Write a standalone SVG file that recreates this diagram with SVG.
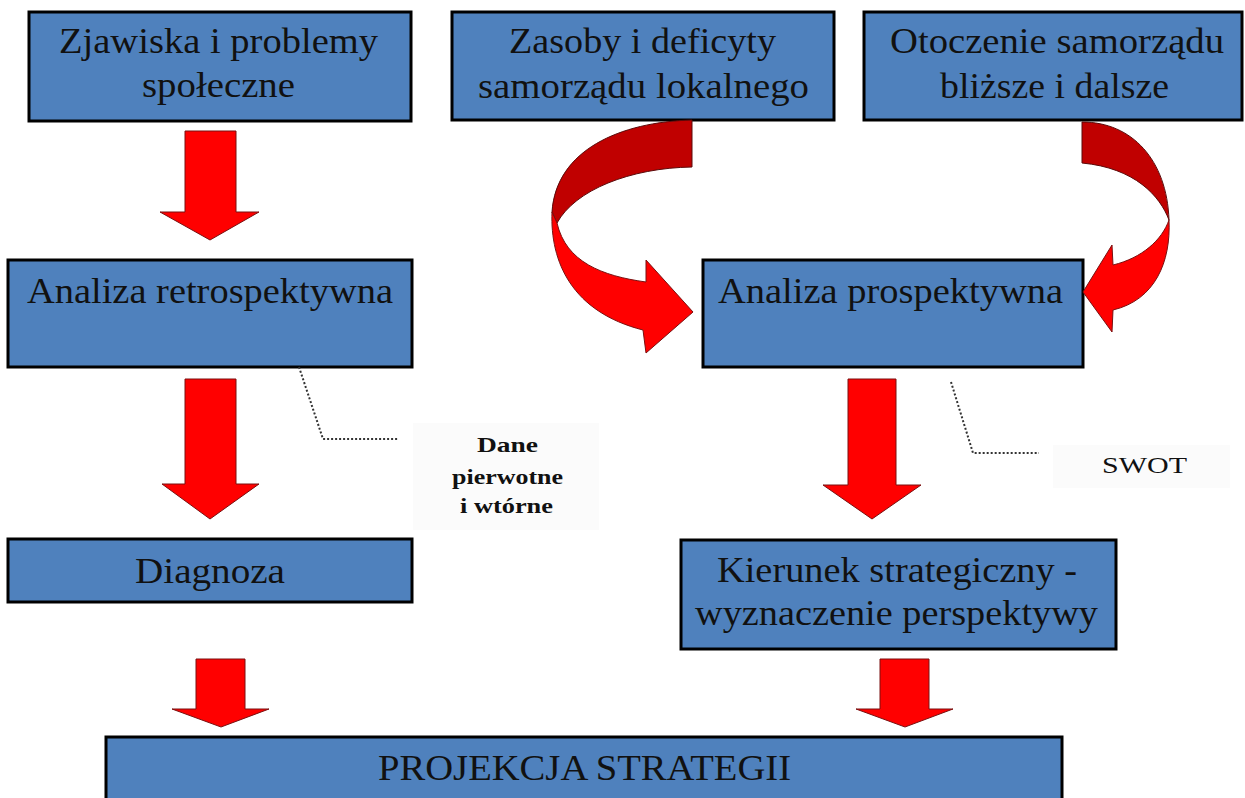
<svg xmlns="http://www.w3.org/2000/svg" width="1245" height="798" viewBox="0 0 1245 798">
<style>
.box{fill:#4f81bd;stroke:#000;stroke-width:3}
.t{font-family:"Liberation Serif",serif;fill:#111;font-size:36px}
.lbl{font-family:"Liberation Serif",serif;fill:#111}
.arr{fill:#ff0000;stroke:#7a1010;stroke-width:1}
.back{fill:#c00000;stroke:#5a0a0a;stroke-width:1}
.call{fill:none;stroke:#333;stroke-width:2;stroke-dasharray:2 2}
.lblbg{fill:#fbfbfb}
</style>
<rect width="1245" height="798" fill="#fff"/>
<g id="label-dane">
<rect class="lblbg" x="413" y="423" width="186" height="107"/>
<text class="lbl" font-size="21" font-weight="bold" x="477" y="452" textLength="61" lengthAdjust="spacingAndGlyphs">Dane</text>
<text class="lbl" font-size="21" font-weight="bold" x="452" y="484" textLength="111" lengthAdjust="spacingAndGlyphs">pierwotne</text>
<text class="lbl" font-size="21" font-weight="bold" x="460" y="513" textLength="93" lengthAdjust="spacingAndGlyphs">i wtórne</text>
</g>
<g id="label-swot">
<rect class="lblbg" x="1053" y="445" width="177" height="43"/>
<text class="lbl" font-size="23" x="1102" y="473" textLength="85" lengthAdjust="spacingAndGlyphs">SWOT</text>
</g>
<g id="node-zjawiska">
<rect class="box" x="29" y="12" width="382" height="109"/>
<text class="t" x="59" y="53" textLength="319" lengthAdjust="spacingAndGlyphs">Zjawiska i problemy</text>
<text class="t" x="142" y="97" textLength="153" lengthAdjust="spacingAndGlyphs">społeczne</text>
</g>
<g id="node-zasoby">
<rect class="box" x="452" y="12" width="382" height="108"/>
<text class="t" x="509" y="53" textLength="267" lengthAdjust="spacingAndGlyphs">Zasoby i deficyty</text>
<text class="t" x="478" y="98" textLength="331" lengthAdjust="spacingAndGlyphs">samorządu lokalnego</text>
</g>
<g id="node-otoczenie">
<rect class="box" x="864" y="12" width="378" height="108"/>
<text class="t" x="890" y="53" textLength="334" lengthAdjust="spacingAndGlyphs">Otoczenie samorządu</text>
<text class="t" x="940" y="98" textLength="229" lengthAdjust="spacingAndGlyphs">bliższe i dalsze</text>
</g>
<g id="node-retro">
<rect class="box" x="8" y="260" width="404" height="107"/>
<text class="t" font-size="37" x="27" y="303" textLength="366" lengthAdjust="spacingAndGlyphs">Analiza retrospektywna</text>
</g>
<g id="node-prosp">
<rect class="box" x="703" y="260" width="380" height="107"/>
<text class="t" font-size="37" x="718" y="303" textLength="345" lengthAdjust="spacingAndGlyphs">Analiza prospektywna</text>
</g>
<g id="node-diagnoza">
<rect class="box" x="8" y="539" width="404" height="63"/>
<text class="t" font-size="37" x="135" y="583" textLength="150" lengthAdjust="spacingAndGlyphs">Diagnoza</text>
</g>
<g id="node-kierunek">
<rect class="box" x="681" y="540" width="435" height="109"/>
<text class="t" x="717" y="582" textLength="360" lengthAdjust="spacingAndGlyphs">Kierunek strategiczny -</text>
<text class="t" x="695" y="625" textLength="403" lengthAdjust="spacingAndGlyphs">wyznaczenie perspektywy</text>
</g>
<g id="node-projekcja">
<rect class="box" x="106" y="737" width="956" height="70"/>
<text class="t" x="378" y="780" textLength="413" lengthAdjust="spacingAndGlyphs">PROJEKCJA STRATEGII</text>
</g>
<g id="connectors">
<polygon class="arr" points="185,131 236,131 236,212 259,212 210,240 160,212 185,212"/>
<polygon class="arr" points="185,379 236,379 236,484 259,484 210,519 162,484 185,484"/>
<polygon class="arr" points="848,379 896,379 896,485 921,485 872,519 823,485 848,485"/>
<polygon class="arr" points="196,659 245,659 245,709 269,709 221,727 172,709 196,709"/>
<polygon class="arr" points="880,659 929,659 929,709 953,709 905,727 856,709 880,709"/>
<path class="back" d="M692,120 C620,122 556,150 552,212 L557,223 C575,190 630,168 692,167 Z"/>
<path class="arr" d="M552,212 C550,262 572,312 643,330 L646,353 L693,312 L646,260 L646,282 C602,276 566,262 557,223 Z"/>
<path class="back" d="M1082,122 C1132,122 1167,160 1169,220 C1160,196 1135,168 1082,163 Z"/>
<path class="arr" d="M1169,220 C1171,262 1155,300 1113,310 L1112,332 L1083,292 L1112,245 L1113,265 C1142,258 1162,240 1169,220 Z"/>
<polyline class="call" points="299,367 323,439 399,439"/>
<polyline class="call" points="951,382 973,453 1039,453"/>
</g>
</svg>
